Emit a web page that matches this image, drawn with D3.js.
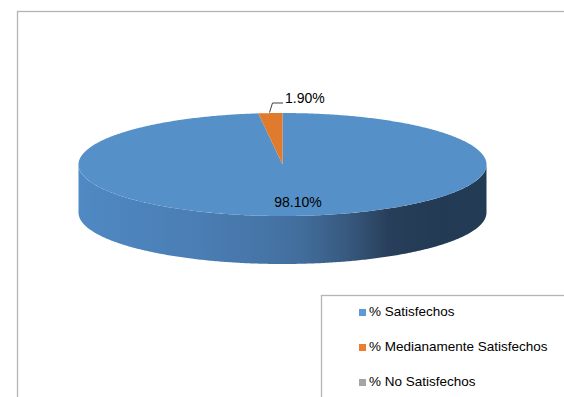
<!DOCTYPE html>
<html>
<head>
<meta charset="utf-8">
<script src="https://cdn.jsdelivr.net/npm/d3@7"></script>
<style>
  html, body { margin: 0; padding: 0; background: #fff; }
  svg { display: block; }
  text { font-family: "Liberation Sans", Arial, sans-serif; fill: #000; }
</style>
</head>
<body>
<svg id="chart" width="564" height="397"></svg>
<script>
// ---- data ----
const categories = ["% Satisfechos", "% Medianamente Satisfechos", "% No Satisfechos"];
const values = [98.10, 1.90, 0];
const labels = ["98.10%", "1.90%", ""];
const colors = ["#5590C8", "#E07A2C", "#A5A5A5"];
const legendColors = ["#5B9BD5", "#ED7D31", "#A5A5A5"];

const svg = d3.select("#chart");
const W = 564, H = 397;

// outer chart border
svg.append("rect").attr("x", 17.5).attr("y", 11.5).attr("width", 600).attr("height", 450)
  .attr("fill", "none").attr("stroke", "#b4b4b4").attr("stroke-width", 1.3);

// geometry
const cx = 282.5, cy = 164.5, rx = 204, ry = 51.5, depth = 48;

const pie = d3.pie().sort(null).value(d => d).startAngle(0).endAngle(2 * Math.PI);
const arcs = pie(values);

const px = a => cx + rx * Math.sin(a);
const py = a => cy - ry * Math.cos(a);

function arcPoints(a0, a1, dy = 0) {
  const n = Math.max(2, Math.ceil(Math.abs(a1 - a0) / 0.01));
  return d3.range(n + 1).map(i => {
    const a = a0 + (a1 - a0) * i / n;
    return [px(a), py(a) + dy];
  });
}

// gradient for side
const defs = svg.append("defs");
const grad = defs.append("linearGradient").attr("id", "sideGrad")
  .attr("gradientUnits", "userSpaceOnUse")
  .attr("x1", cx - rx).attr("x2", cx + rx).attr("y1", 0).attr("y2", 0);
[[0, "#5089c3"], [0.12, "#4d84bd"], [0.3, "#4a7db3"], [0.45, "#4675a8"],
 [0.55, "#416d9b"], [0.66, "#37597e"], [0.76, "#283f5b"], [0.88, "#233a54"], [1, "#243b55"]]
  .forEach(([o, c]) => grad.append("stop").attr("offset", o).attr("stop-color", c));

// side (front half, from angle PI/2 to 3PI/2)
const line = d3.line();
const topFront = arcPoints(Math.PI / 2, 3 * Math.PI / 2, 0);
const botFront = arcPoints(3 * Math.PI / 2, Math.PI / 2, depth);
svg.append("path")
  .attr("d", line(topFront.concat(botFront)) + "Z")
  .attr("fill", "url(#sideGrad)");

// top faces
arcs.forEach((d, i) => {
  if (d.endAngle - d.startAngle <= 0) return;
  const pts = [[cx, cy]].concat(arcPoints(d.startAngle, d.endAngle, 0));
  svg.append("path").attr("d", line(pts) + "Z").attr("fill", colors[i]);
});

// labels
svg.append("text").attr("x", 298).attr("y", 207).attr("text-anchor", "middle")
  .attr("font-size", 14).text(labels[0]);

svg.append("path").attr("d", "M269.5,112.5 L272.5,103 L283,103")
  .attr("fill", "none").attr("stroke", "#404040").attr("stroke-width", 1);
svg.append("text").attr("x", 285).attr("y", 102.5)
  .attr("font-size", 14).text(labels[1]);

// legend
svg.append("rect").attr("x", 321.5).attr("y", 295.5).attr("width", 300).attr("height", 150)
  .attr("fill", "#fff").attr("stroke", "#b4b4b4").attr("stroke-width", 1.3);

const legendY = d3.scalePoint().domain(categories).range([316, 386]);
const lg = svg.append("g");
categories.forEach((c, i) => {
  const y = legendY(c);
  lg.append("rect").attr("x", 359).attr("y", y - 7).attr("width", 7).attr("height", 7)
    .attr("fill", legendColors[i]);
  lg.append("text").attr("x", 369).attr("y", y).attr("font-size", 13.5).text(c);
});
</script>
</body>
</html>
